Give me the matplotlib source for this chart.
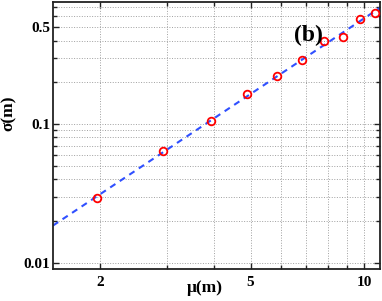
import matplotlib
matplotlib.use('Agg')
import matplotlib.pyplot as plt
import numpy as np
from matplotlib.ticker import FixedLocator, FixedFormatter, NullFormatter

# mean and standard deviation of m
mu = [1.96, 2.94, 3.92, 4.9, 5.87, 6.85, 7.82, 8.78, 9.75, 10.7]
sigma = [0.0292, 0.0634, 0.1056, 0.1655, 0.223, 0.291, 0.397, 0.422, 0.576, 0.629]

x_ticks = [2, 5, 10]
x_minor = [3, 4, 6, 7, 8, 9]
y_ticks = [0.01, 0.1, 0.5]
y_minor = [0.02, 0.03, 0.04, 0.05, 0.06, 0.07, 0.08, 0.09, 0.2, 0.3, 0.4, 0.6, 0.7]

serif = {'family': 'Liberation Serif', 'weight': 'bold'}

fig = plt.figure(figsize=(3.82, 3.01), dpi=100)
ax = fig.add_axes([0.1387, 0.1063, 0.8561, 0.8871])
ax.set_xscale('log')
ax.set_yscale('log')

# power law fit in log-log space
p = np.polyfit(np.log10(mu), np.log10(sigma), 1)
xf = np.array([1.5, 11.5])
ax.plot(xf, 10 ** np.polyval(p, np.log10(xf)), '--', color='#3050ff', lw=1.5,
        dashes=(3, 2.5), zorder=2)
ax.plot(mu, sigma, 'o', mfc='none', mec='red', mew=1.3, ms=5.5, zorder=3)

ax.set_xlim(1.5, 11)
ax.set_ylim(0.009, 0.76)

ax.xaxis.set_major_locator(FixedLocator(x_ticks))
ax.xaxis.set_major_formatter(FixedFormatter([str(t) for t in x_ticks]))
ax.xaxis.set_minor_locator(FixedLocator(x_minor))
ax.xaxis.set_minor_formatter(NullFormatter())
ax.yaxis.set_major_locator(FixedLocator(y_ticks))
ax.yaxis.set_major_formatter(FixedFormatter(['0.01', '0.1', '0.5']))
ax.yaxis.set_minor_locator(FixedLocator(y_minor))
ax.yaxis.set_minor_formatter(NullFormatter())

ax.grid(True, which='both', linestyle=':', color='#a0a0a0', lw=0.7)
ax.set_axisbelow(True)
ax.tick_params(which='both', direction='in', top=True, right=True,
               width=1.0, color='#222222')
ax.tick_params(which='major', length=4)
ax.tick_params(which='minor', length=3)
ax.tick_params(axis='x', which='major', pad=5)
ax.tick_params(axis='y', which='major', pad=2)
for lab in ax.get_xticklabels() + ax.get_yticklabels():
    lab.set_fontfamily('Liberation Serif')
    lab.set_fontweight('bold')
    lab.set_fontsize(11)
for s in ax.spines.values():
    s.set_linewidth(1.3)
    s.set_color('#222222')

ax.set_xlabel('μ(m)', fontdict=serif, fontsize=12.5, va='center')
ax.set_ylabel('σ(m)', fontdict=serif, fontsize=12.5, va='center')
ax.xaxis.set_label_coords(0.465, -0.073)
ax.yaxis.set_label_coords(-0.135, 0.584)

ax.text(0.78, 0.875, '(b)', transform=ax.transAxes, fontdict=serif,
        fontsize=17, ha='center', va='center')

fig.savefig('out.png', dpi=100)
